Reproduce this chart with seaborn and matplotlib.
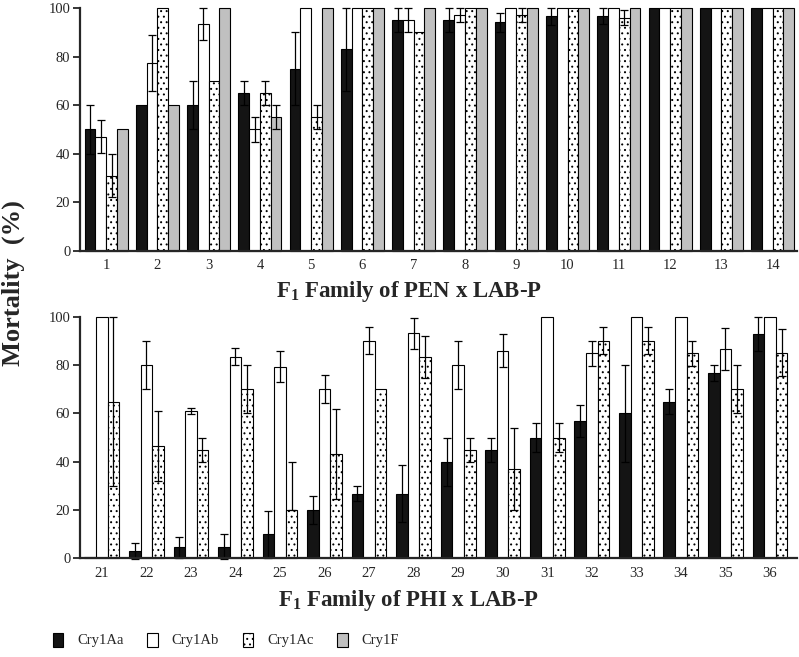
import matplotlib
matplotlib.use("Agg")
import matplotlib.pyplot as plt
from matplotlib.patches import Patch
import seaborn as sns
import pandas as pd

# values
toxins = ["Cry1Aa", "Cry1Ab", "Cry1Ac", "Cry1F"]

pen_families = [str(i) for i in range(1, 15)]
pen_aa = [50, 60, 60, 65, 75, 83, 95, 95, 94, 96.5, 96.7, 100, 100, 100]
pen_aa_err = [10, 0, 10, 5, 15, 17, 5, 5, 4, 3.5, 3.3, 0, 0, 0]
pen_ab = [47, 77.5, 93.3, 50, 100, 100, 95, 97, 100, 100, 100, 100, 100, 100]
pen_ab_err = [6.7, 11.5, 6.7, 5, 0, 0, 5, 3, 0, 0, 0, 0, 0, 0]
pen_ac = [31, 100, 70, 65, 55, 100, 90, 100, 97, 100, 96, 100, 100, 100]
pen_ac_err = [9, 0, 0, 5, 5, 0, 0, 0, 3, 0, 3, 0, 0, 0]
pen_f = [50, 60, 100, 55, 100, 100, 100, 100, 100, 100, 100, 100, 100, 100]
pen_f_err = [0, 0, 0, 5, 0, 0, 0, 0, 0, 0, 0, 0, 0, 0]

phi_families = [str(i) for i in range(21, 37)]
phi_aa = [0.5, 3.2, 4.6, 4.8, 10, 20, 26.8, 26.8, 40, 45, 50, 56.8, 60, 64.8, 76.6, 92.7]
phi_aa_err = [0, 3.3, 4.4, 5.2, 9.7, 5.8, 3.2, 11.8, 10, 5, 5.9, 6.6, 20, 5.2, 3.4, 7]
phi_ab = [100, 80, 61.1, 83.4, 79.3, 70, 90, 93.1, 80, 86, 100, 84.8, 100, 100, 86.5, 100]
phi_ab_err = [0, 10, 1.2, 3.5, 6.5, 5.9, 5.6, 6.5, 10, 6.8, 0, 5, 0, 0, 8.7, 0]
phi_ac = [64.8, 46.6, 45, 70, 20, 43.2, 70, 83.4, 45, 37, 50, 90, 90, 84.8, 70, 85.1]
phi_ac_err = [35, 14.5, 5, 10, 20, 18.8, 0, 8.6, 5, 17, 5.9, 5.6, 5.6, 5, 10, 9.7]
phi_ac_err_lo = [35, 14.5, 5, 10, 0, 18.8, 0, 8.6, 5, 17, 5.9, 5.6, 5.6, 5, 10, 9.7]

colors = {"Cry1Aa": "#141414", "Cry1Ab": "white", "Cry1Ac": "white", "Cry1F": "#c0c0c0"}
hatches = {"Cry1Aa": "", "Cry1Ab": "", "Cry1Ac": "...", "Cry1F": ""}

sns.set_style("ticks")
plt.rcParams["font.family"] = ["Liberation Serif", "DejaVu Serif"]
plt.rcParams["mathtext.fontset"] = "custom"
plt.rcParams["mathtext.rm"] = "Liberation Serif"
plt.rcParams["mathtext.bf"] = "Liberation Serif:bold"
plt.rcParams["hatch.linewidth"] = 0.7


def panel(ax, families, series, lo_errs, hi_errs, width, xlim, xlabel, pad):
    names = toxins[:len(series)]
    df = pd.DataFrame({
        "family": families * len(series),
        "toxin": [n for n in names for _ in families],
        "mortality": [v for s in series for v in s],
    })
    sns.barplot(data=df, x="family", y="mortality", hue="toxin", hue_order=names,
                order=families, palette=colors, width=width, errorbar=None,
                edgecolor="black", linewidth=0.8, legend=False, ax=ax)
    for name, cont, vals, lo, hi in zip(names, ax.containers, series, lo_errs, hi_errs):
        xs, ys, el, eh = [], [], [], []
        for p, v, l, h in zip(cont, vals, lo, hi):
            p.set_hatch(hatches[name])
            p.set_clip_on(False)
            if h > 0:
                xs.append(p.get_x() + p.get_width() / 2)
                ys.append(v)
                el.append(l)
                eh.append(h)
        eb = ax.errorbar(xs, ys, yerr=[el, eh], fmt="none", ecolor="black",
                         elinewidth=0.9, capsize=3, capthick=0.9)
        for art in eb.lines[1] + eb.lines[2]:
            art.set_clip_on(False)
    ax.set_ylim(0, 100)
    ax.set_xlim(*xlim)
    ax.set_yticks([0, 20, 40, 60, 80, 100])
    ax.tick_params(axis="y", length=5, width=1.3, labelsize=10.5, pad=2)
    ax.tick_params(axis="x", length=0, labelsize=10.5, pad=6)
    for s in ["left", "bottom"]:
        ax.spines[s].set_linewidth(1.6)
    sns.despine(ax=ax)
    ax.set_ylabel("")
    ax.set_xlabel(xlabel, fontsize=16.5, fontweight="bold", labelpad=pad)
    ax.xaxis.label.set_x(0.459)


fig = plt.figure(figsize=(7.99, 6.57), dpi=100)
ax1 = fig.add_axes([0.1001, 0.618, 0.897, 0.370])
ax2 = fig.add_axes([0.1001, 0.150, 0.897, 0.368])

panel(ax1, pen_families, [pen_aa, pen_ab, pen_ac, pen_f],
      [pen_aa_err, pen_ab_err, pen_ac_err, pen_f_err],
      [pen_aa_err, pen_ab_err, pen_ac_err, pen_f_err],
      0.84, (-0.51, 13.47), r"$\mathbf{F_1}$ Family of PEN x LAB-P", 5)
panel(ax2, phi_families, [phi_aa, phi_ab, phi_ac],
      [phi_aa_err, phi_ab_err, phi_ac_err_lo],
      [phi_aa_err, phi_ab_err, phi_ac_err],
      0.78, (-0.49, 15.6), r"$\mathbf{F_1}$ Family of PHI x LAB-P", 6)

fig.text(0.017, 1 - 283 / 657, "Mortality  (%)", rotation=90, va="center", ha="center",
         fontsize=19, fontweight="bold")

handles = [Patch(facecolor=colors[t], edgecolor="black", hatch=hatches[t], linewidth=0.8)
           for t in toxins]
fig.legend(handles, toxins, loc="center left", bbox_to_anchor=(0.0663, 1 - 640 / 657),
           ncol=4, frameon=False, fontsize=10.5, handlelength=0.7, handleheight=1.1,
           handletextpad=0.95, columnspacing=1.65, borderpad=0, borderaxespad=0)

fig.savefig("out.png", dpi=100)
